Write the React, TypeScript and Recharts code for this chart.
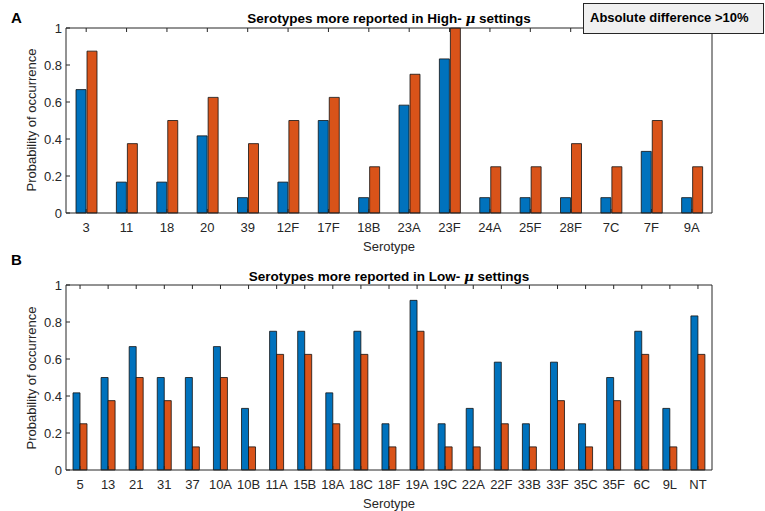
import { BarChart, Bar, XAxis, YAxis } from 'recharts'

const highCategories = ['3', '11', '18', '20', '39', '12F', '17F', '18B', '23A', '23F', '24A', '25F', '28F', '7C', '7F', '9A']
const highBlue = [0.667, 0.167, 0.167, 0.417, 0.083, 0.167, 0.5, 0.083, 0.583, 0.833, 0.083, 0.083, 0.083, 0.083, 0.333, 0.083]
const highOrange = [0.875, 0.375, 0.5, 0.625, 0.375, 0.5, 0.625, 0.25, 0.75, 1.0, 0.25, 0.25, 0.375, 0.25, 0.5, 0.25]

const lowCategories = ['5', '13', '21', '31', '37', '10A', '10B', '11A', '15B', '18A', '18C', '18F', '19A', '19C', '22A', '22F', '33B', '33F', '35C', '35F', '6C', '9L', 'NT']
const lowBlue = [0.417, 0.5, 0.667, 0.5, 0.5, 0.667, 0.333, 0.75, 0.75, 0.417, 0.75, 0.25, 0.917, 0.25, 0.333, 0.583, 0.25, 0.583, 0.25, 0.5, 0.75, 0.333, 0.833]
const lowOrange = [0.25, 0.375, 0.5, 0.375, 0.125, 0.5, 0.125, 0.625, 0.625, 0.25, 0.625, 0.125, 0.75, 0.125, 0.125, 0.25, 0.125, 0.375, 0.125, 0.375, 0.625, 0.125, 0.625]

const yTicks = [0, 0.2, 0.4, 0.6, 0.8, 1]

const FONT = 'Arial, "Liberation Sans", Helvetica, sans-serif'
const AXIS = '#262626'
const BLUE = '#0072BD'
const ORANGE = '#D95319'
const TICK = 4

// ticks point inward, like MATLAB; the label sits outside
const BottomTick = (p: any) => (
  <g>
    <line x1={p.x} x2={p.x} y1={p.y - 10} y2={p.y - 10 - TICK} stroke={AXIS} />
    <text x={p.x} y={p.y} dy="0.71em" textAnchor="middle" fill={AXIS} fontSize={13} fontFamily={FONT}>{p.payload.value}</text>
  </g>
)
const LeftTick = (p: any) => (
  <g>
    <line x1={p.x + 4} x2={p.x + 4 + TICK} y1={p.y} y2={p.y} stroke={AXIS} />
    <text x={p.x} y={p.y} dy="0.355em" textAnchor="end" fill={AXIS} fontSize={13} fontFamily={FONT}>{String(p.payload.value)}</text>
  </g>
)
const TopTick = (p: any) => <line x1={p.x} x2={p.x} y1={p.y} y2={p.y + TICK} stroke={AXIS} />
const RightTick = (p: any) => <line x1={p.x} x2={p.x - TICK} y1={p.y} y2={p.y} stroke={AXIS} />

function Panel({ cats, blue, orange, barSize, barGap }: { cats: string[]; blue: number[]; orange: number[]; barSize: number; barGap: number }) {
  const data = cats.map((c, i) => ({ name: c, a: blue[i], b: orange[i] }))
  return (
    <BarChart
      width={765}
      height={250}
      data={data}
      margin={{ top: 27, right: 52, bottom: 17, left: 36 }}
      barSize={barSize}
      barGap={barGap}
    >
      <XAxis dataKey="name" xAxisId="bottom" height={20} interval={0} tickSize={0} tickMargin={10} tickLine={false} stroke={AXIS} tick={BottomTick} />
      <XAxis dataKey="name" xAxisId="top" orientation="top" height={1} interval={0} tickSize={0} tickMargin={0} tickLine={false} tick={TopTick} stroke={AXIS} />
      <YAxis yAxisId="left" width={30} domain={[0, 1]} ticks={yTicks} tickSize={0} tickMargin={4} tickLine={false} stroke={AXIS} tick={LeftTick} />
      <YAxis yAxisId="right" orientation="right" width={1} domain={[0, 1]} ticks={yTicks} tickSize={0} tickMargin={0} tickLine={false} tick={RightTick} stroke={AXIS} />
      <Bar dataKey="a" xAxisId="bottom" yAxisId="left" fill={BLUE} stroke="#111" strokeWidth={0.8} isAnimationActive={false} />
      <Bar dataKey="b" xAxisId="bottom" yAxisId="left" fill={ORANGE} stroke="#111" strokeWidth={0.8} isAnimationActive={false} />
    </BarChart>
  )
}

const abs = (x: number, y: number): React.CSSProperties => ({ position: 'absolute', left: x, top: y })

export default function App() {
  const title = { fontFamily: FONT, fontWeight: 'bold' as const, fontSize: 13.5, color: '#000', whiteSpace: 'nowrap' as const, transform: 'translate(-50%, -50%)' }
  const axisLabel = { fontFamily: FONT, fontSize: 13, color: AXIS, whiteSpace: 'nowrap' as const, transform: 'translate(-50%, -50%)' }
  const yLabel = { ...axisLabel, transform: 'translate(-50%, -50%) rotate(-90deg)' }
  const panelLetter = { fontFamily: FONT, fontWeight: 'bold' as const, fontSize: 15, color: '#000' }
  return (
    <div style={{ position: 'fixed', left: 0, top: 0, width: 765, height: 511, background: '#fff', overflow: 'hidden' }}>
      <div style={abs(0, 0)}>
        <Panel cats={highCategories} blue={highBlue} orange={highOrange} barSize={10} barGap={1} />
      </div>
      <div style={abs(0, 257)}>
        <Panel cats={lowCategories} blue={lowBlue} orange={lowOrange} barSize={7} barGap={0} />
      </div>

      <div style={{ ...abs(11, 9), ...panelLetter }}>A</div>
      <div style={{ ...abs(11, 251), ...panelLetter }}>B</div>

      <div style={{ ...abs(389, 18), ...title }}>
        Serotypes more reported in High- <i style={{ fontFamily: '"DejaVu Serif", serif' }}>μ</i> settings
      </div>
      <div style={{ ...abs(389, 276), ...title }}>
        Serotypes more reported in Low- <i style={{ fontFamily: '"DejaVu Serif", serif' }}>μ</i> settings
      </div>

      <div style={{ ...abs(389, 246), ...axisLabel }}>Serotype</div>
      <div style={{ ...abs(389, 503), ...axisLabel }}>Serotype</div>

      <div style={{ ...abs(31, 120), ...yLabel }}>Probability of occurrence</div>
      <div style={{ ...abs(31, 378), ...yLabel }}>Probability of occurrence</div>

      <div
        style={{
          ...abs(583, 3),
          width: 181,
          height: 31,
          background: '#f0f0f0',
          border: '1px solid #262626',
          fontFamily: FONT,
          fontWeight: 'bold',
          fontSize: 13,
          lineHeight: '27px',
          paddingLeft: 6,
          boxSizing: 'border-box',
          whiteSpace: 'nowrap',
        }}
      >
        Absolute difference &gt;10%
      </div>
    </div>
  )
}
